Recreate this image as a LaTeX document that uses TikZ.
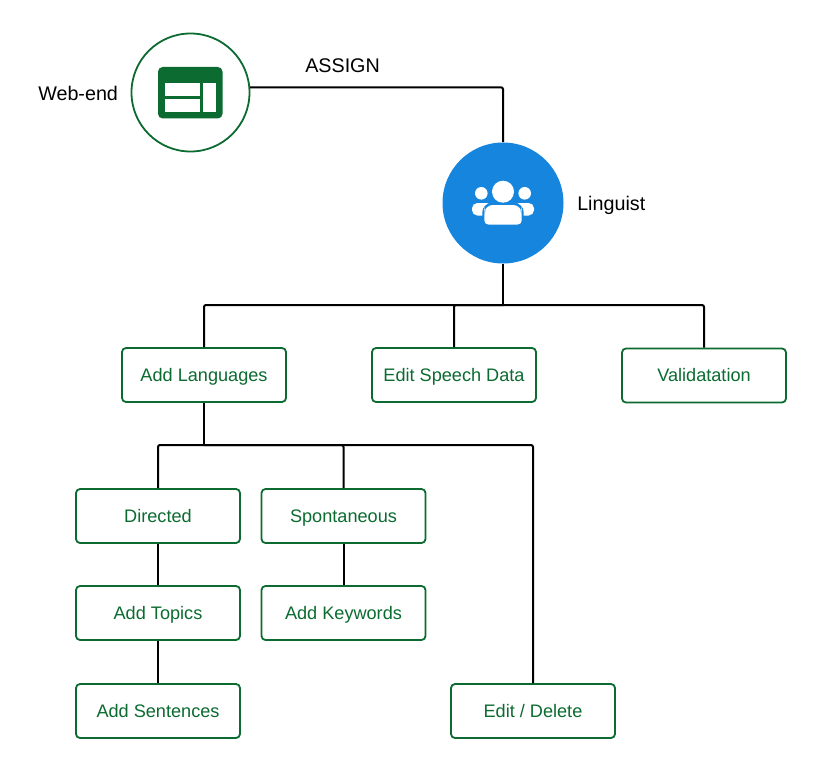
\documentclass[tikz,border=0pt]{standalone}
\usepackage{fontspec}
\setmainfont{Liberation Sans}
\definecolor{dgreen}{HTML}{0B6B30}
\definecolor{lblue}{HTML}{1585DD}
\tikzset{
  box/.style={draw=dgreen,line width=1.35pt,rounded corners=3pt,fill=white,minimum width=164*0.75pt,minimum height=54*0.75pt,inner sep=0pt,text=dgreen,text height=13pt,text depth=4pt,font=\fontsize{13.6pt}{16pt}\selectfont},
  lab/.style={inner sep=0pt,text=black,font=\fontsize{14.8pt}{18pt}\selectfont},
  conn/.style={draw=black,line width=1.5pt,rounded corners=1.5pt},
}
\begin{document}
\begin{tikzpicture}[x=0.75pt,y=-0.75pt]
\useasboundingbox (0,0) rectangle (824,770);
\fill[white] (0,0) rectangle (824,770);
% hub nodes
\node[circle,draw=dgreen,line width=1.35pt,fill=white,minimum size=118*0.75pt,inner sep=0pt] (web) at (190.5,92.5) {};
\node[circle,fill=lblue,minimum size=121*0.75pt,inner sep=0pt] (ling) at (503,203) {};
% boxes
\node[box] (lang) at (204,375) {Add Languages};
\node[box] (edit) at (454,375) {Edit Speech Data};
\node[box] (valid) at (704,375.5) {Validatation\hspace{3.75pt}};
\node[box] (dir) at (158,516) {Directed};
\node[box] (spon) at (343.5,516) {Spontaneous};
\node[box] (topics) at (158,613) {Add Topics};
\node[box] (keys) at (343.5,613) {Add Keywords};
\node[box] (sent) at (158,711) {Add Sentences};
\node[box] (del) at (533,711) {Edit / Delete};
% junctions
\coordinate (busA) at (503,305);
\coordinate (busB) at (204,445);
% connectors
\draw[conn] (web.5) -| (ling.north);
\draw[conn] (ling.south) -- (busA);
\draw[conn] (busA) -| (lang.north);
\draw[conn] (busA) -| (valid.north);
\draw[conn] (edit.north) |- (busA);
\draw[conn] (lang.south) -- (busB);
\draw[conn] (busB) -| (dir.north);
\draw[conn] (busB) -| (del.north);
\draw[conn] (spon.north) |- (busB);
\draw[conn] (dir) -- (topics);
\draw[conn] (topics) -- (sent);
\draw[conn] (spon) -- (keys);
% labels
\node[lab,anchor=base west] (weblab) at (38,100.7) {Web-end};
\node[lab,anchor=base west] (assign) at (305,72.2) {ASSIGN};
\node[lab,anchor=base west] (linglab) at (577,210.2) {Linguist};
% sheet icon
\fill[dgreen,rounded corners=3.5pt] (158,67) rectangle (222.5,118.5);
\fill[white] (164.5,83) rectangle (200,96);
\fill[white] (164.5,99) rectangle (200,112);
\fill[white] (203,83) rectangle (216,112);
% people icon
\fill[white] (481.3,193.3) circle (6.3);
\fill[white] (524.7,193.3) circle (6.3);
\fill[white,rounded corners=4pt] (472,215.5) -- (472,203) -- (492,203) -- (492,215.5) -- cycle;
\fill[white,rounded corners=4pt] (514,215.5) -- (514,203) -- (534,203) -- (534,215.5) -- cycle;
\fill[lblue,rounded corners=7pt] (482.3,228) -- (482.3,203) -- (523.7,203) -- (523.7,228) -- cycle;
\fill[white] (503,191.7) circle (11);
\fill[white,rounded corners=6.5pt] (484.3,215) -- (484.3,205) -- (521.7,205) -- (521.7,215) -- cycle;
\fill[white,rounded corners=3pt] (484.3,210) -- (484.3,224.5) -- (521.7,224.5) -- (521.7,210) -- cycle;
\end{tikzpicture}
\end{document}
